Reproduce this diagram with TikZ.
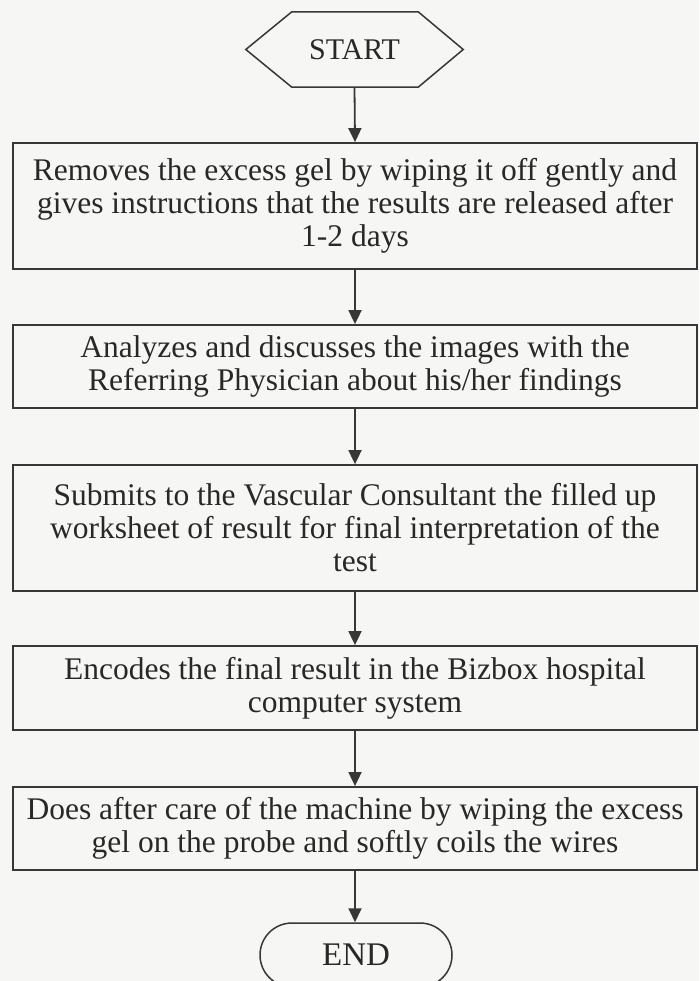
\documentclass[tikz,border=0pt]{standalone}
\usepackage{fontspec}
\setmainfont{Liberation Serif}
\usetikzlibrary{arrows.meta}
\definecolor{bgcol}{RGB}{246,246,244}
\definecolor{linecol}{RGB}{55,55,55}
\definecolor{txtcol}{RGB}{40,40,40}
\tikzset{
  stepbox/.style={draw=linecol, line width=1.8pt, rectangle, minimum width=684pt,
    align=center, text=txtcol, font=\fontsize{31.5}{33}\selectfont, inner sep=0pt},
  termbox/.style={draw=linecol, line width=1.5pt, rectangle, rounded corners=32pt,
    minimum width=192pt, minimum height=64pt, text=txtcol, font=\fontsize{33}{36}\selectfont},
  flow/.style={draw=linecol, line width=1.8pt, -{Triangle[width=13pt,length=14pt]}}
}
\begin{document}
\begin{tikzpicture}[x=1pt,y=-1pt]
\fill[bgcol] (0,0) rectangle (699,981);
\useasboundingbox (0,0) rectangle (699,981);
\node[minimum width=217pt, minimum height=75pt, text=txtcol, font=\fontsize{30}{33}\selectfont, inner sep=0pt] (start) at (354.5,49.5) {START};
\draw[linecol, line width=1.5pt] (start.west) -- ([xshift=46pt]start.north west) -- ([xshift=-45pt]start.north east) -- (start.east) -- ([xshift=-45pt]start.south east) -- ([xshift=46pt]start.south west) -- cycle;
\node[stepbox, minimum height=126pt] (b1) at (355,206) {Removes the excess gel by wiping it off gently and\\gives instructions that the results are released after\\1-2 days};
\node[stepbox, minimum height=83pt] (b2) at (355,366.5) {Analyzes and discusses the images with the\\Referring Physician about his/her findings};
\node[stepbox, minimum height=126pt] (b3) at (355,528) {Submits to the Vascular Consultant the filled up\\worksheet of result for final interpretation of the\\test};
\node[stepbox, minimum height=84pt] (b4) at (355,688) {Encodes the final result in the Bizbox hospital\\computer system};
\node[stepbox, minimum height=83pt] (b5) at (355,828.5) {Does after care of the machine by wiping the excess\\gel on the probe and softly coils the wires};
\node[termbox] (end) at (356,955) {END};
\draw[flow] (start.south) -- (b1.north);
\draw[flow] (b1.south) -- (b2.north);
\draw[flow] (b2.south) -- (b3.north);
\draw[flow] (b3.south) -- (b4.north);
\draw[flow] (b4.south) -- (b5.north);
\draw[flow] (b5.south) -- (b5.south |- end.north);
\end{tikzpicture}
\end{document}
